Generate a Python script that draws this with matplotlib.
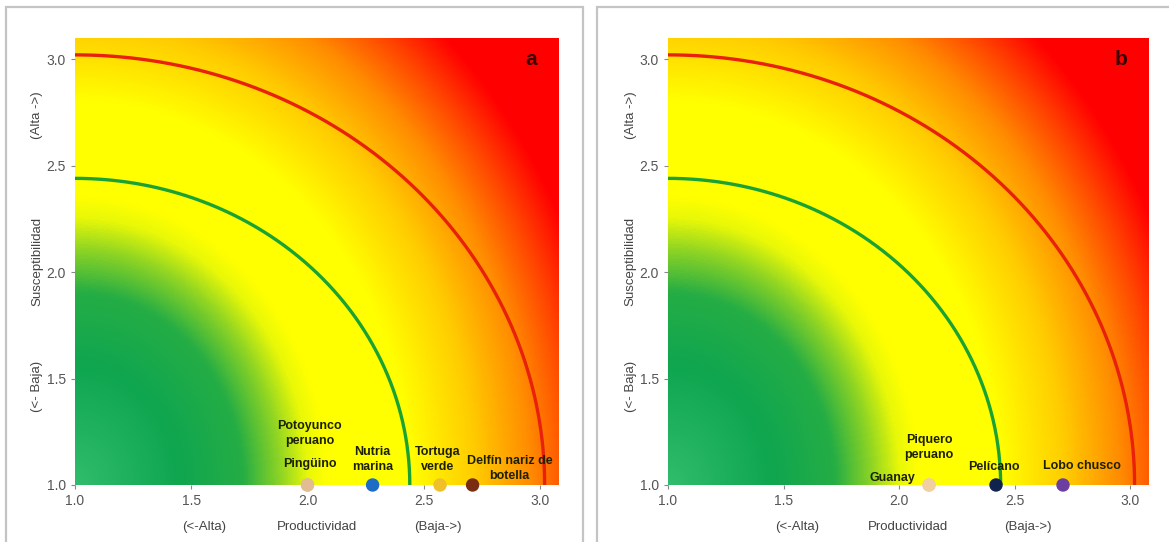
import numpy as np
import matplotlib
matplotlib.use("Agg")
import matplotlib.pyplot as plt
from matplotlib.colors import LinearSegmentedColormap
from matplotlib.patches import Rectangle

plt.rcParams['font.family'] = ['Liberation Sans', 'DejaVu Sans']

# risk thresholds (distance from origin 1,1)
low_radius = 1.44
high_radius = 2.02

# panel a
species_a = ["Pingüino", "Potoyunco\nperuano", "Nutria\nmarina", "Tortuga\nverde", "Delfín nariz de\nbotella"]
prod_a = [2.0, 2.0, 2.28, 2.57, 2.71]
susc_a = [1.0, 1.0, 1.0, 1.0, 1.0]
colors_a = ["#e2bc92", "#e2bc92", "#1f6cc4", "#f0c02a", "#7a2c12"]

# panel b
species_b = ["Guanay", "Piquero\nperuano", "Pelícano", "Lobo chusco"]
prod_b = [2.13, 2.13, 2.42, 2.71]
susc_b = [1.0, 1.0, 1.0, 1.0]
colors_b = ["#f0d0a0", "#f0d0a0", "#10224e", "#6a3fa0"]

ticks = [1.0, 1.5, 2.0, 2.5, 3.0]

# background colour against scaled distance from (1,1)
dmax = 3.4
stops = [(0.0, "#30bc6c"), (0.55, "#0fa650"), (0.9, "#25ad45"), (1.1, "#8ed424"),
         (1.25, "#e8f808"), (1.35, "#ffff00"), (1.8, "#ffff00"), (2.15, "#ffcc00"),
         (2.45, "#ff8c00"), (2.7, "#ff4000"), (2.9, "#ff0000"), (3.4, "#ff0000")]
risk_cmap = LinearSegmentedColormap.from_list("risk", [(d / dmax, c) for d, c in stops])

fig = plt.figure(figsize=(11.69, 5.42), dpi=100)

# panel frames
for x0 in [0.005, 0.511]:
    fig.add_artist(Rectangle((x0, -0.02), 0.494, 1.008, transform=fig.transFigure,
                             fill=False, edgecolor="#c4c4c4", linewidth=1.6))


def draw_panel(ax, prod, susc, cols, names, offsets, letter):
    gx, gy = np.meshgrid(np.linspace(1, 3.08, 400), np.linspace(1, 3.1, 400))
    d = np.sqrt(((gx - 1) * 1.25) ** 2 + (gy - 1) ** 2)
    ax.imshow(d, extent=[1, 3.08, 1, 3.1], origin="lower", aspect="auto",
              cmap=risk_cmap, vmin=0, vmax=dmax, interpolation="bilinear")
    t = np.linspace(0, np.pi / 2, 300)
    ax.plot(1 + low_radius * np.cos(t), 1 + low_radius * np.sin(t), color="#1aa332", lw=2.4)
    ax.plot(1 + high_radius * np.cos(t), 1 + high_radius * np.sin(t), color="#e8200c", lw=2.4)
    ax.scatter(prod, susc, s=75, c=cols, zorder=5, clip_on=False)
    for name, (tx, ty) in zip(names, offsets):
        ax.text(tx, ty, name, ha="center", va="center", fontsize=9, fontweight="bold",
                color="#1c2000", linespacing=1.35)
    ax.text(2.96, 3.0, letter, fontsize=15, fontweight="bold", color="#3a0000",
            ha="center", va="center")
    ax.set_xlim(1, 3.08)
    ax.set_ylim(1, 3.1)
    ax.set_xticks(ticks)
    ax.set_yticks(ticks)
    ax.set_xticklabels(["%.1f" % v for v in ticks])
    ax.set_yticklabels(["%.1f" % v for v in ticks])
    ax.tick_params(labelsize=10, colors="#888888", labelcolor="#555555", length=3, width=0.8)
    for s in ax.spines.values():
        s.set_visible(False)
    tr = ax.transAxes
    for txt, yy in [("(<- Baja)", 0.22), ("Susceptibilidad", 0.50), ("(Alta ->)", 0.826)]:
        ax.text(-0.078, yy, txt, rotation=90, transform=tr, ha="center", va="center",
                fontsize=9.5, color="#444444")
    for txt, xx in [("(<-Alta)", 0.268), ("Productividad", 0.5), ("(Baja->)", 0.75)]:
        ax.text(xx, -0.094, txt, transform=tr, ha="center", va="center",
                fontsize=9.5, color="#444444")


ax1 = fig.add_axes([75 / 1169, 0.1052, 2.08 * 232.5 / 1169, 0.825])
ax2 = fig.add_axes([668 / 1169, 0.1052, 2.08 * 231 / 1169, 0.825])

offs_a = [(2.01, 1.10), (2.01, 1.24), (2.28, 1.12), (2.56, 1.12), (2.87, 1.077)]
offs_b = [(1.97, 1.035), (2.13, 1.175), (2.41, 1.085), (2.79, 1.09)]

draw_panel(ax1, prod_a, susc_a, colors_a, species_a, offs_a, "a")
draw_panel(ax2, prod_b, susc_b, colors_b, species_b, offs_b, "b")

fig.savefig("out.png", dpi=100)
